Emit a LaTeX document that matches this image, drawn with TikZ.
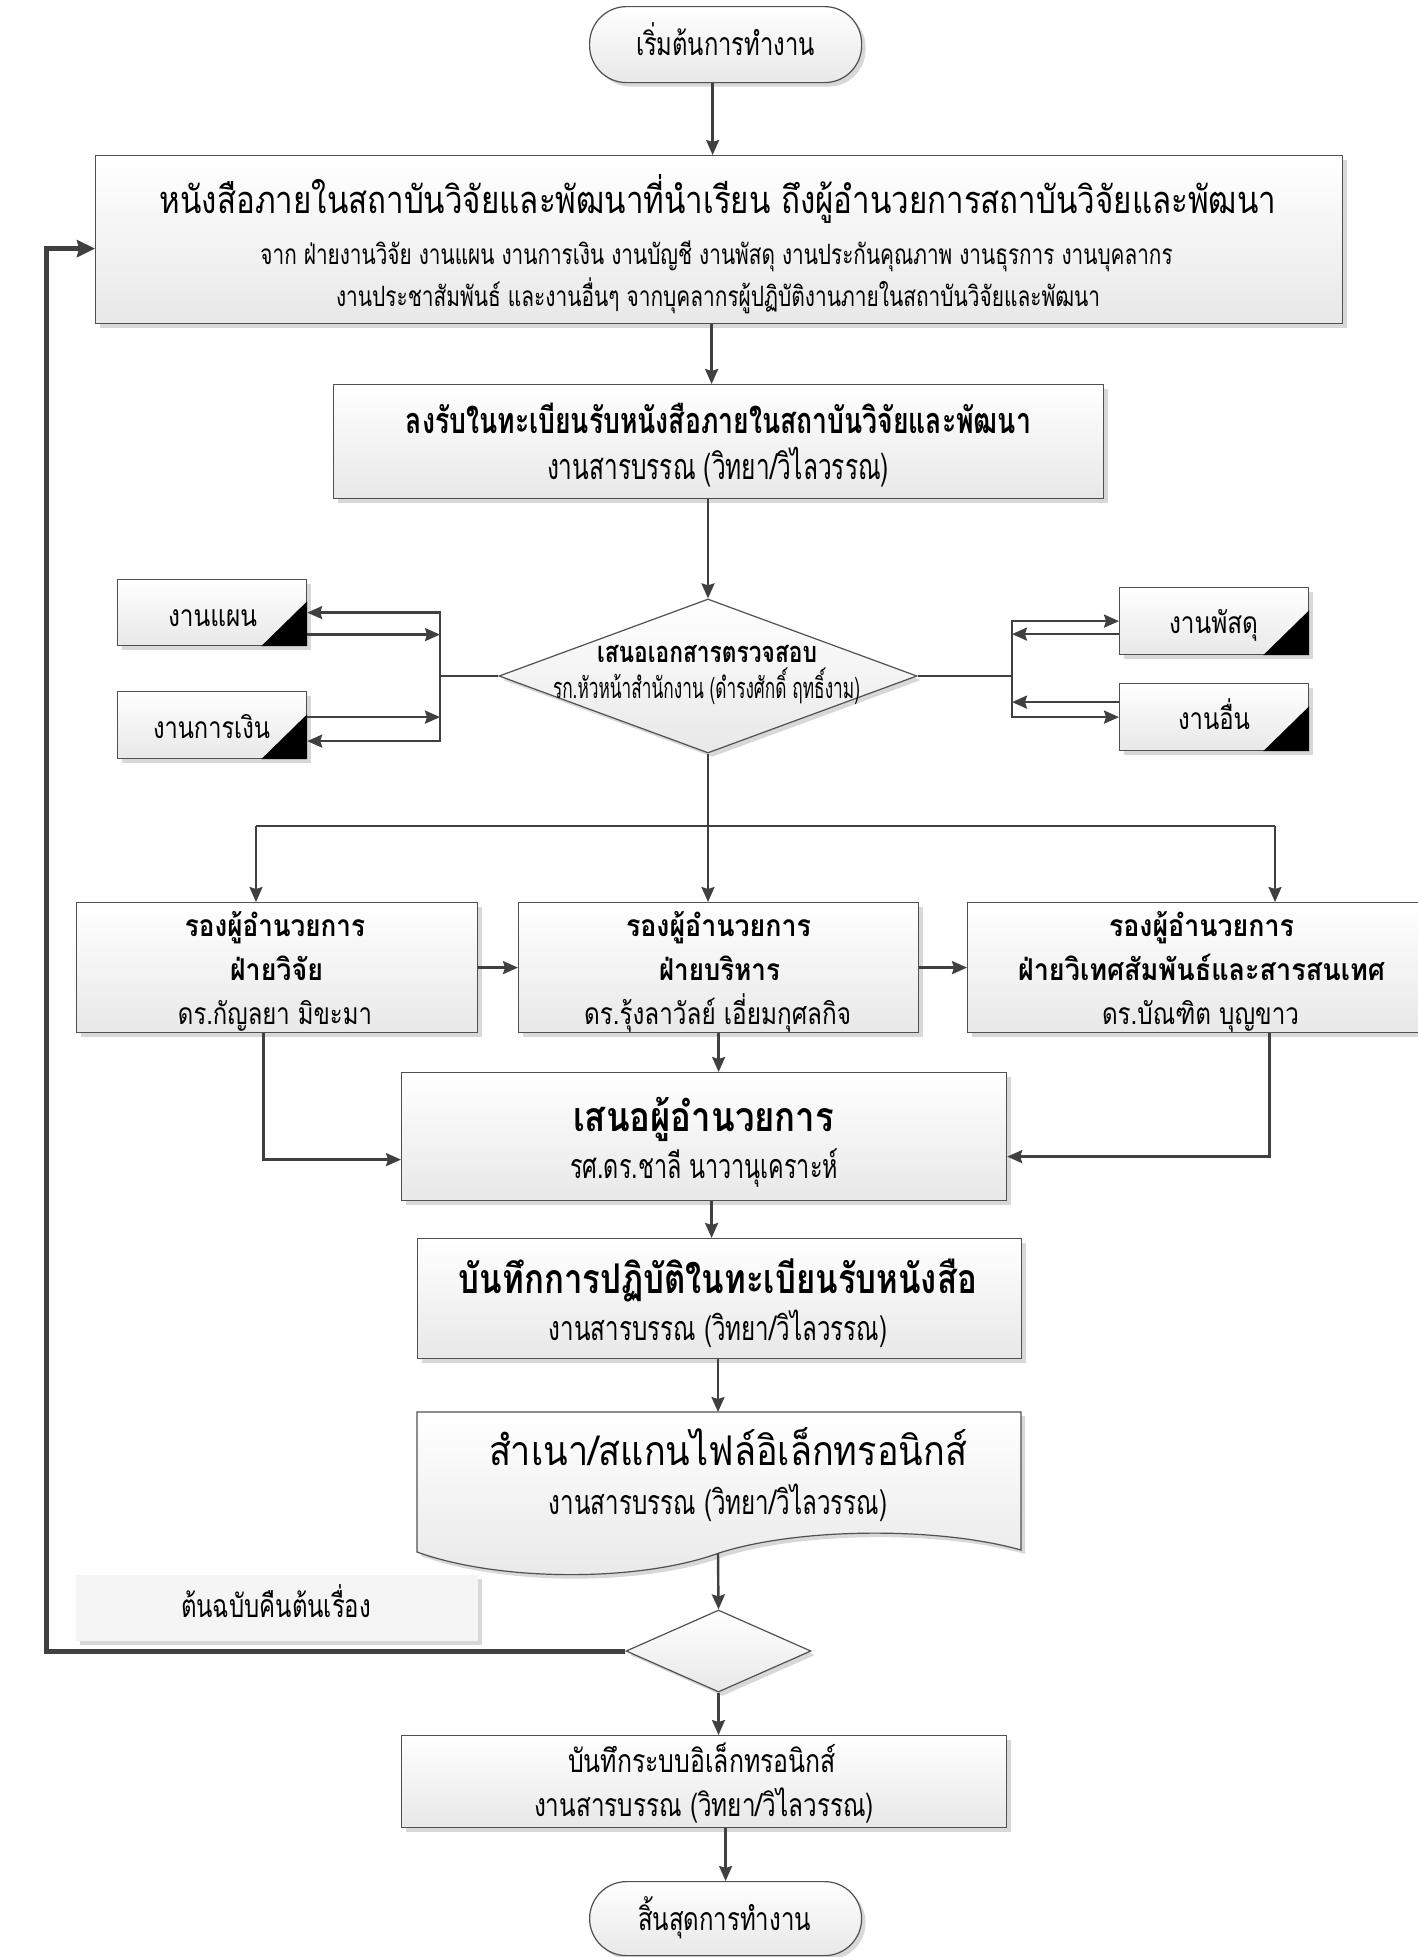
\documentclass[tikz,border=0pt]{standalone}
\usepackage{fontspec}
\usepackage{graphicx}
\usetikzlibrary{arrows.meta,shadows,shapes.geometric}
\newfontfamily\thai[Script=Thai]{Loma}
\definecolor{ln}{HTML}{404040}
\definecolor{bd}{HTML}{505050}
\newcommand{\W}[2]{\resizebox{#1pt}{\height}{#2}}
\newcommand{\fs}[1]{\fontsize{#1pt}{#1pt}\selectfont}
\begin{document}
\begin{tikzpicture}[x=1pt,y=-1pt,
  shd/.style={drop shadow={shadow xshift=4pt,shadow yshift=-4pt,fill=black!30,opacity=0.5}},
  box/.style={shape=rectangle, draw=bd, line width=1.2pt, top color=white, bottom color=black!9, shd, inner sep=0pt, anchor=north west},
  term/.style={box, rounded corners=37pt},
  dia/.style={shape=diamond, draw=bd, line width=1.2pt, top color=white, bottom color=black!9, shd, inner sep=0pt},
  lbl/.style={shape=rectangle, fill=black!4, shd, inner sep=0pt, anchor=north west},
  tx/.style={anchor=base, inner sep=0pt, text=black},
  conn/.style={draw=ln, line width=2.4pt},
  arr/.style={conn, -{Stealth[length=15pt,width=13pt,inset=2pt]}},
  loopl/.style={draw=ln, line width=5pt, -{Stealth[length=18pt,width=17pt,inset=2pt]}},
  tri/.style={fill=black}
]
\fill[white] (0,0) rectangle (1418,1957);
\useasboundingbox (0,0) rectangle (1418,1957);

% start
\node[term, minimum width=272pt, minimum height=76pt] (st) at (589,6) {};
\node[tx, font=\thai\fs{32}] (tst) at (725.5,55) {\W{179}{เริ่มต้นการทำงาน}};

% box 1
\node[box, minimum width=1247pt, minimum height=168pt] (b1) at (95,155) {};
\node[tx, font=\thai\fs{38}] (t1a) at (718,213) {\W{1116}{หนังสือภายในสถาบันวิจัยและพัฒนาที่นำเรียน ถึงผู้อำนวยการสถาบันวิจัยและพัฒนา}};
\node[tx, font=\thai\fs{28}] (t1b) at (716.5,264) {\W{912}{จาก ฝ่ายงานวิจัย งานแผน งานการเงิน งานบัญชี งานพัสดุ งานประกันคุณภาพ งานธุรการ งานบุคลากร}};
\node[tx, font=\thai\fs{28}] (t1c) at (718,306) {\W{764}{งานประชาสัมพันธ์ และงานอื่นๆ จากบุคลากรผู้ปฏิบัติงานภายในสถาบันวิจัยและพัฒนา}};

% box 2
\node[box, minimum width=770pt, minimum height=114pt] (b2) at (333,384) {};
\node[tx, font=\thai\bfseries\fs{36}] (t2a) at (718.5,433) {\W{625}{ลงรับในทะเบียนรับหนังสือภายในสถาบันวิจัยและพัฒนา}};
\node[tx, font=\thai\fs{36}] (t2b) at (718,479) {\W{342}{งานสารบรรณ (วิทยา/วิไลวรรณ)}};

% diamond 1
\node[dia, minimum width=418pt, minimum height=154pt] (d1) at (708,676) {};
\node[tx, font=\thai\bfseries\fs{29}] (td1a) at (707,662) {\W{220}{เสนอเอกสารตรวจสอบ}};
\node[tx, font=\thai\fs{29}] (td1b) at (706.5,698) {\W{307}{รก.หัวหน้าสำนักงาน (ดำรงศักดิ์ ฤทธิ์งาม)}};

% side boxes
\node[box, minimum width=189pt, minimum height=66pt] (s1) at (117,579) {};
\node[box, minimum width=189pt, minimum height=67pt] (s2) at (117,691) {};
\node[box, minimum width=189pt, minimum height=67pt] (s3) at (1119,587) {};
\node[box, minimum width=189pt, minimum height=67pt] (s4) at (1119,683) {};
\foreach \s in {s1,s2,s3,s4}{
  \fill[tri] (\s.south east) -- ([yshift=45pt]\s.south east) -- ([xshift=-46pt]\s.south east) -- cycle;
}
\node[tx, font=\thai\fs{30}] (ts1) at (212.5,626) {\W{89}{งานแผน}};
\node[tx, font=\thai\fs{30}] (ts2) at (211.5,738) {\W{117}{งานการเงิน}};
\node[tx, font=\thai\fs{30}] (ts3) at (1213.5,633) {\W{89}{งานพัสดุ}};
\node[tx, font=\thai\fs{30}] (ts4) at (1214,729) {\W{72}{งานอื่น}};

% row 3
\node[box, minimum width=401pt, minimum height=130pt] (b3a) at (76,902) {};
\node[box, minimum width=400pt, minimum height=130pt] (b3b) at (518,902) {};
\node[box, minimum width=457pt, minimum height=130pt] (b3c) at (967,902) {};
\node[tx, font=\thai\bfseries\fs{30}] (t3a1) at (275,936) {\W{180}{รองผู้อำนวยการ}};
\node[tx, font=\thai\bfseries\fs{30}] (t3a2) at (276.5,980) {\W{93}{ฝ่ายวิจัย}};
\node[tx, font=\thai\fs{30}] (t3a3) at (275,1024) {\W{194}{ดร.กัญลยา มิขะมา}};
\node[tx, font=\thai\bfseries\fs{30}] (t3b1) at (718.5,936) {\W{185}{รองผู้อำนวยการ}};
\node[tx, font=\thai\bfseries\fs{30}] (t3b2) at (719.5,980) {\W{121}{ฝ่ายบริหาร}};
\node[tx, font=\thai\fs{30}] (t3b3) at (717.5,1024) {\W{267}{ดร.รุ้งลาวัลย์ เอี่ยมกุศลกิจ}};
\node[tx, font=\thai\bfseries\fs{30}] (t3c1) at (1201.5,936) {\W{185}{รองผู้อำนวยการ}};
\node[tx, font=\thai\bfseries\fs{30}] (t3c2) at (1201.5,980) {\W{367}{ฝ่ายวิเทศสัมพันธ์และสารสนเทศ}};
\node[tx, font=\thai\fs{30}] (t3c3) at (1200.5,1024) {\W{197}{ดร.บัณฑิต บุญขาว}};

% box 4
\node[box, minimum width=605pt, minimum height=128pt] (b4) at (401,1072) {};
\node[tx, font=\thai\bfseries\fs{41}] (t4a) at (703.5,1131) {\W{261}{เสนอผู้อำนวยการ}};
\node[tx, font=\thai\fs{34}] (t4b) at (704,1178) {\W{268}{รศ.ดร.ชาลี นาวานุเคราะห์}};

% box 5
\node[box, minimum width=604pt, minimum height=120pt] (b5) at (417,1238) {};
\node[tx, font=\thai\bfseries\fs{41}] (t5a) at (718,1293) {\W{518}{บันทึกการปฏิบัติในทะเบียนรับหนังสือ}};
\node[tx, font=\thai\fs{34}] (t5b) at (718,1340) {\W{338}{งานสารบรรณ (วิทยา/วิไลวรรณ)}};

% box 6 (document)
\draw[draw=bd, line width=1.2pt, top color=white, bottom color=black!9, shd]
  (417,1412) -- (1021,1412) -- (1021,1550)
  .. controls (940,1527) and (800,1527) .. (719,1553)
  .. controls (640,1582) and (500,1582) .. (417,1552) -- cycle;
\coordinate (b6n) at (718,1412);
\coordinate (b6s) at (718,1553);
\node[tx, font=\thai\fs{41}] (t6a) at (728,1465) {\W{478}{สำเนา/สแกนไฟล์อิเล็กทรอนิกส์}};
\node[tx, font=\thai\fs{34}] (t6b) at (718,1514) {\W{338}{งานสารบรรณ (วิทยา/วิไลวรรณ)}};

% label
\node[lbl, minimum width=402pt, minimum height=66pt] (lb) at (76,1575) {};
\node[tx, font=\thai\fs{32}] (tlb) at (276,1617) {\W{190}{ต้นฉบับคืนต้นเรื่อง}};

% diamond 2
\node[dia, minimum width=185pt, minimum height=82pt] (d2) at (718.5,1651) {};

% box 7
\node[box, minimum width=605pt, minimum height=92pt] (b7) at (401,1735) {};
\node[tx, font=\thai\fs{32}] (t7a) at (702,1772) {\W{268}{บันทึกระบบอิเล็กทรอนิกส์}};
\node[tx, font=\thai\fs{32}] (t7b) at (704,1816) {\W{340}{งานสารบรรณ (วิทยา/วิไลวรรณ)}};

% end
\node[term, minimum width=272pt, minimum height=74pt] (en) at (589,1881) {};
\node[tx, font=\thai\fs{32}] (ten) at (724.5,1930) {\W{173}{สิ้นสุดการทำงาน}};

% connectors
\draw[arr] ([xshift=-13pt]st.south) -- ([xshift=-13pt]st.south |- b1.north);
\draw[arr] ([xshift=-7.5pt]b1.south) -- ([xshift=-7.5pt]b1.south |- b2.north);
\draw[arr] (b2.south -| d1.north) -- (d1.north);

\coordinate (jL) at (440,676);
\coordinate (jR) at (1012,676);
\draw[conn] (d1.west) -- (jL);
\draw[conn] (d1.east) -- (jR);
\draw[arr] (jL) |- (s1.east);
\coordinate (s1o) at ([yshift=-22pt]s1.east);
\draw[arr] (s1o) -- (s1o -| jL);
\coordinate (s2o) at ([yshift=8pt]s2.east);
\draw[arr] (s2o) -- (s2o -| jL);
\draw[arr] (jL) |- ([yshift=-16pt]s2.east);
\draw[arr] (jR) |- (s3.west);
\coordinate (s3o) at ([yshift=-13pt]s3.west);
\draw[arr] (s3o) -- (s3o -| jR);
\coordinate (s4o) at ([yshift=15pt]s4.west);
\draw[arr] (s4o) -- (s4o -| jR);
\draw[arr] (jR) |- (s4.west);

\coordinate (hL) at (256,826);
\coordinate (hR) at (1275,826);
\draw[conn] (hL) -- (hR);
\draw[arr] (d1.south) -- (d1.south |- b3b.north);
\draw[arr] (hL) -- (hL |- b3a.north);
\draw[arr] (hR) -- (hR |- b3c.north);
\draw[arr] (b3a.east) -- (b3b.west);
\draw[arr] (b3b.east) -- (b3c.west);

\draw[arr] ([xshift=-13.5pt]b3a.south) |- ([yshift=-23pt]b4.west);
\draw[arr] ([xshift=73.5pt]b3c.south) |- ([yshift=-20pt]b4.east);
\draw[arr] (b3b.south) -- (b3b.south |- b4.north);
\draw[arr] ([xshift=7.5pt]b4.south) -- ([xshift=7.5pt]b4.south |- b5.north);
\draw[arr] (b5.south -| b6n) -- (b6n);
\draw[arr] (b6s) -- (d2.north);
\draw[arr] (d2.south) -- (d2.south |- b7.north);
\draw[arr] (b7.south -| en.north) -- (en.north);

\coordinate (lp) at (46,1651);
\draw[loopl] (d2.west) -- (lp) |- ([yshift=-9pt]b1.west);
\end{tikzpicture}
\end{document}
